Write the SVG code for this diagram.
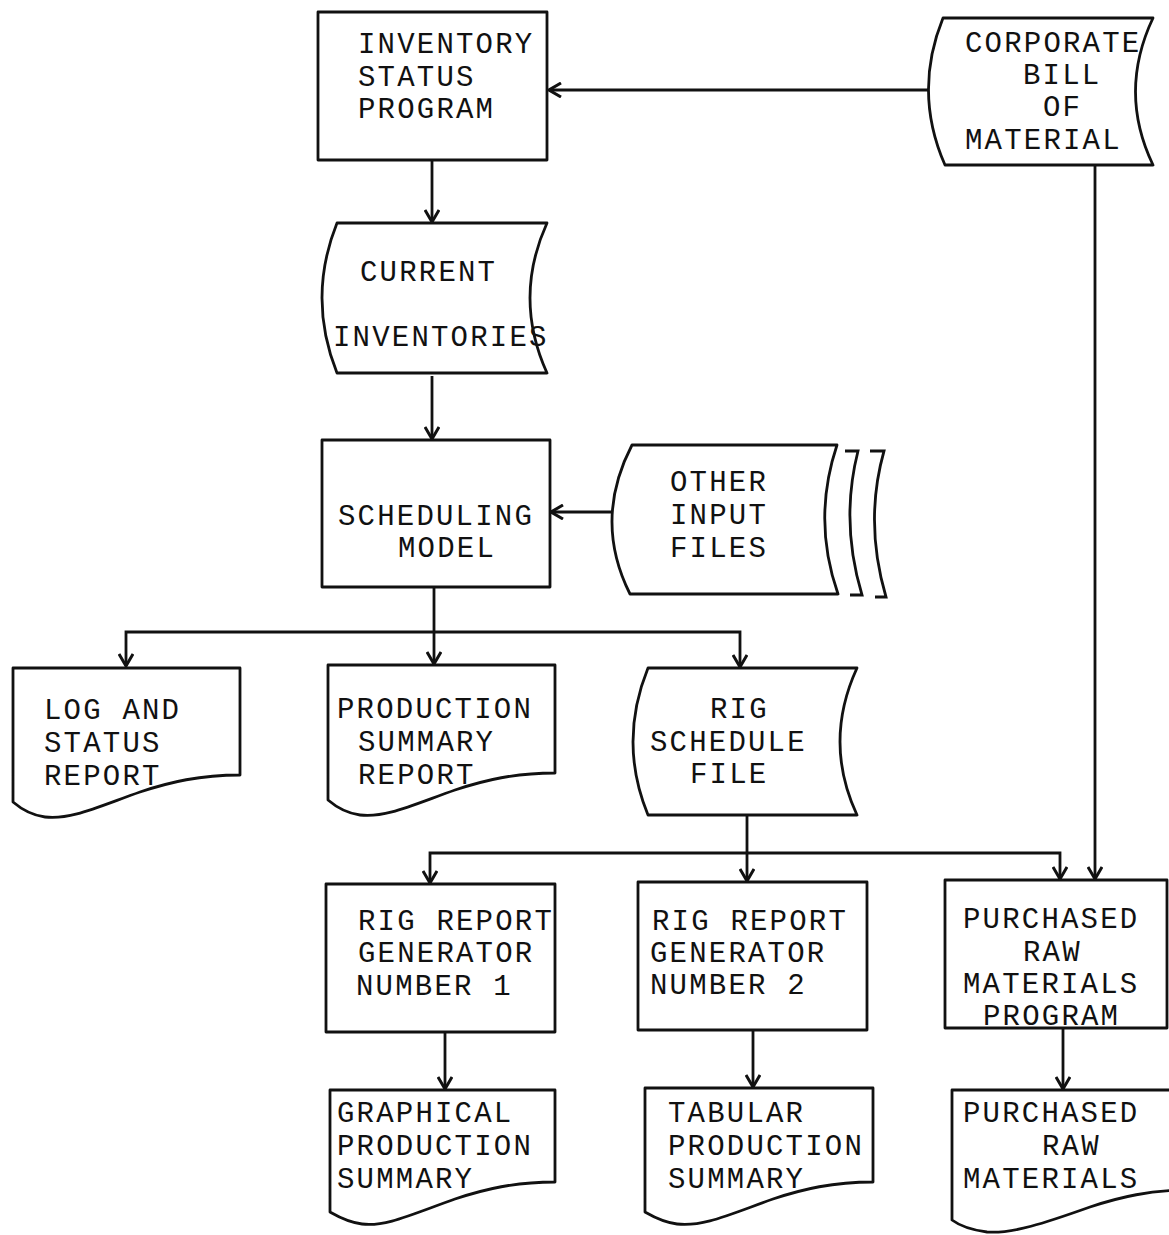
<svg xmlns="http://www.w3.org/2000/svg" width="1169" height="1235" viewBox="0 0 1169 1235">
<defs>
<style>
.s{fill:#fff;stroke:#111;stroke-width:2.8;stroke-linejoin:round}
.c{fill:none;stroke:#111;stroke-width:2.8}
.b{fill:none;stroke:#111;stroke-width:2.8}
text{font-family:"Liberation Mono","DejaVu Sans Mono",monospace;font-size:29px;letter-spacing:2.2px;fill:#111}
</style>
<marker id="ah" viewBox="0 0 14 16" refX="13" refY="8" markerWidth="14" markerHeight="16" markerUnits="userSpaceOnUse" orient="auto">
<path d="M1,1 L13,8 L1,15" fill="none" stroke="#111" stroke-width="3"/>
</marker>
</defs>
<rect width="1169" height="1235" fill="#fff"/>

<g id="connectors">
<path class="c" d="M928,90 H549" marker-end="url(#ah)"/>
<path class="c" d="M432,160 V222" marker-end="url(#ah)"/>
<path class="c" d="M432,376 V439" marker-end="url(#ah)"/>
<path class="c" d="M612,512 H551" marker-end="url(#ah)"/>
<path class="c" d="M434,588 V664" marker-end="url(#ah)"/>
<path class="c" d="M434,632 H126 V666" marker-end="url(#ah)"/>
<path class="c" d="M434,632 H740 V667" marker-end="url(#ah)"/>
<path class="c" d="M747,815 V881" marker-end="url(#ah)"/>
<path class="c" d="M747,853 H430 V883" marker-end="url(#ah)"/>
<path class="c" d="M747,853 H1060 V879" marker-end="url(#ah)"/>
<path class="c" d="M1095,165 V879" marker-end="url(#ah)"/>
<path class="c" d="M445,1032 V1089" marker-end="url(#ah)"/>
<path class="c" d="M753,1030 V1087" marker-end="url(#ah)"/>
<path class="c" d="M1063,1028 V1089" marker-end="url(#ah)"/>
</g>

<g id="inventory-status-program">
<rect class="s" x="318" y="12" width="229" height="148"/>
<text x="358" y="53">INVENTORY</text>
<text x="358" y="86">STATUS</text>
<text x="358" y="118">PROGRAM</text>
</g>

<g id="corporate-bill-of-material">
<path class="s" d="M943,18 H1153 Q1118,92 1153,165 H945 Q913,92 943,18 Z"/>
<text x="965" y="52">CORPORATE</text>
<text x="1023" y="84">BILL</text>
<text x="1043" y="116">OF</text>
<text x="965" y="149">MATERIAL</text>
</g>

<g id="current-inventories">
<path class="s" d="M337,223 H547 Q513,298 547,373 H337 Q307,298 337,223 Z"/>
<text x="360" y="281">CURRENT</text>
<text x="333" y="346">INVENTORIES</text>
</g>

<g id="scheduling-model">
<rect class="s" x="322" y="440" width="228" height="147"/>
<text x="338" y="525">SCHEDULING</text>
<text x="398" y="557">MODEL</text>
</g>

<g id="other-input-files">
<path class="s" d="M632,445 H837 Q812,520 838,594 H630 Q593,520 632,445 Z"/>
<path class="b" d="M845,451 H858 Q840,522 862,595 H850"/>
<path class="b" d="M870,451 H884 Q864,522 886,597 H875"/>
<text x="670" y="491">OTHER</text>
<text x="670" y="524">INPUT</text>
<text x="670" y="557">FILES</text>
</g>

<g id="log-and-status-report">
<path class="s" d="M13,668 H240 V775 C200,775 170,782 140,792 C95,808 70,820 45,817 C30,815 20,808 13,802 Z"/>
<text x="44" y="719">LOG AND</text>
<text x="44" y="752">STATUS</text>
<text x="44" y="785">REPORT</text>
</g>

<g id="production-summary-report">
<path class="s" d="M328,665 H555 V773 C515,773 485,780 455,790 C410,806 385,818 360,815 C345,813 335,806 328,800 Z"/>
<text x="337" y="718">PRODUCTION</text>
<text x="358" y="751">SUMMARY</text>
<text x="358" y="784">REPORT</text>
</g>

<g id="rig-schedule-file">
<path class="s" d="M648,668 H857 Q823,742 857,815 H648 Q618,742 648,668 Z"/>
<text x="710" y="718">RIG</text>
<text x="650" y="751">SCHEDULE</text>
<text x="690" y="783">FILE</text>
</g>

<g id="rig-report-generator-1">
<rect class="s" x="326" y="884" width="229" height="148"/>
<text x="358" y="930">RIG REPORT</text>
<text x="358" y="962">GENERATOR</text>
<text x="356" y="995">NUMBER 1</text>
</g>

<g id="rig-report-generator-2">
<rect class="s" x="638" y="882" width="229" height="148"/>
<text x="652" y="930">RIG REPORT</text>
<text x="650" y="962">GENERATOR</text>
<text x="650" y="994">NUMBER 2</text>
</g>

<g id="purchased-raw-materials-program">
<rect class="s" x="945" y="880" width="222" height="148"/>
<text x="963" y="928">PURCHASED</text>
<text x="1023" y="961">RAW</text>
<text x="963" y="993">MATERIALS</text>
<text x="983" y="1025">PROGRAM</text>
</g>

<g id="graphical-production-summary">
<path class="s" d="M330,1090 H555 V1182 C515,1182 485,1189 455,1199 C410,1215 385,1227 362,1224 C347,1222 337,1216 330,1212 Z"/>
<text x="337" y="1122">GRAPHICAL</text>
<text x="337" y="1155">PRODUCTION</text>
<text x="337" y="1188">SUMMARY</text>
</g>

<g id="tabular-production-summary">
<path class="s" d="M645,1088 H873 V1182 C833,1182 803,1189 773,1199 C728,1215 703,1227 677,1224 C662,1222 652,1216 645,1212 Z"/>
<text x="668" y="1122">TABULAR</text>
<text x="668" y="1155">PRODUCTION</text>
<text x="668" y="1188">SUMMARY</text>
</g>

<g id="purchased-raw-materials">
<path class="s" d="M952,1090 H1190 V1190 C1150,1190 1120,1197 1090,1207 C1045,1223 1012,1234 987,1232 C972,1230 960,1226 952,1220 Z"/>
<text x="963" y="1122">PURCHASED</text>
<text x="1042" y="1155">RAW</text>
<text x="963" y="1188">MATERIALS</text>
</g>
</svg>
